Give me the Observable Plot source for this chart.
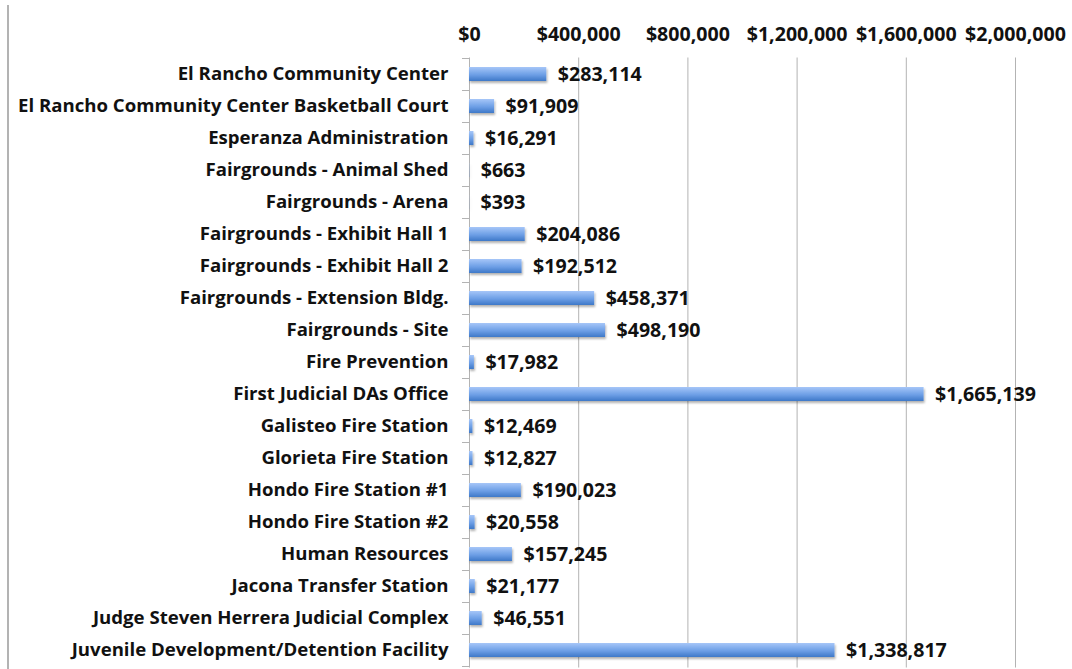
<!DOCTYPE html>
<html>
<head>
<meta charset="utf-8">
<script src="https://cdn.jsdelivr.net/npm/d3@7"></script>
<script src="https://cdn.jsdelivr.net/npm/@observablehq/plot@0.6"></script>
<style>
  html, body { margin: 0; padding: 0; background: #fff; }
  #wrap { position: relative; width: 1072px; height: 669px; overflow: hidden; }
  #edge { position: absolute; left: 7px; top: 5px; width: 2px; bottom: 0; background: #b3b3b3; z-index: 2; }
  #wrap svg { position: absolute; left: 0; top: 0; }
</style>
</head>
<body>
<div id="wrap"><div id="edge"></div></div>
<script>
const facilities = [
  "El Rancho Community Center",
  "El Rancho Community Center Basketball Court",
  "Esperanza Administration",
  "Fairgrounds - Animal Shed",
  "Fairgrounds - Arena",
  "Fairgrounds - Exhibit Hall 1",
  "Fairgrounds - Exhibit Hall 2",
  "Fairgrounds - Extension Bldg.",
  "Fairgrounds - Site",
  "Fire Prevention",
  "First Judicial DAs Office",
  "Galisteo Fire Station",
  "Glorieta Fire Station",
  "Hondo Fire Station #1",
  "Hondo Fire Station #2",
  "Human Resources",
  "Jacona Transfer Station",
  "Judge Steven Herrera Judicial Complex",
  "Juvenile Development/Detention Facility"
];
const amounts = [
  283114, 91909, 16291, 663, 393, 204086, 192512, 458371, 498190, 17982,
  1665139, 12469, 12827, 190023, 20558, 157245, 21177, 46551, 1338817
];
const xTicks = [0, 400000, 800000, 1200000, 1600000, 2000000];

const data = facilities.map((name, i) => ({name, value: amounts[i]}));
const money = v => "$" + d3.format(",")(v);
const nameFont = {fontSize: 18.6, fontWeight: "bold", fill: "#111"};
const numFont = {fontSize: 19.6, fontWeight: "bold", fill: "#111"};
const halfStep = 16;

const chart = Plot.plot({
  width: 1072,
  height: 669,
  marginLeft: 469,
  marginRight: 57,
  marginTop: 57.5,
  marginBottom: 1.5,
  style: {fontFamily: "'Open Sans', Lato, sans-serif", background: "white"},
  x: {domain: [0, 2000000], label: null},
  y: {domain: facilities, paddingInner: 0.56, paddingOuter: 0.28, label: null},
  marks: [
    Plot.gridX(xTicks, {stroke: "#b3b3b3", strokeOpacity: 1}),
    Plot.axisY({tickSize: 7, tickFormat: () => "", dy: -halfStep, stroke: "#b3b3b3", strokeOpacity: 1, label: null}),
    Plot.axisY(facilities.slice(-1), {tickSize: 7, tickFormat: () => "", dy: halfStep, stroke: "#b3b3b3", strokeOpacity: 1, label: null}),
    Plot.barX(data, {x: "value", y: "name", fill: "#5b8fdc"}),
    Plot.text(data, {x: "value", y: "name", text: d => money(d.value), textAnchor: "start", dx: 11, ...numFont}),
    Plot.axisX(xTicks, {anchor: "top", tickSize: 0, tickPadding: 17, tickFormat: money, label: null, ...numFont}),
    Plot.axisY({tickSize: 0, tickPadding: 21, label: null, ...nameFont})
  ]
});

// gradient fill for bars
const svg = d3.select(chart);
const defs = svg.insert("defs", ":first-child");
const grad = defs.append("linearGradient").attr("id", "barGrad").attr("x1", 0).attr("y1", 0).attr("x2", 0).attr("y2", 1);
grad.append("stop").attr("offset", "0%").attr("stop-color", "#a6c6f8");
grad.append("stop").attr("offset", "55%").attr("stop-color", "#6d9fe6");
grad.append("stop").attr("offset", "100%").attr("stop-color", "#3f78c8");
const filt = defs.append("filter").attr("id", "barShadow").attr("x", "-5%").attr("y", "-20%").attr("width", "115%").attr("height", "160%");
filt.append("feDropShadow").attr("dx", 1).attr("dy", 2).attr("stdDeviation", 1).attr("flood-color", "#000").attr("flood-opacity", 0.3);
svg.selectAll('g[aria-label="bar"]').attr("fill", "url(#barGrad)").attr("filter", "url(#barShadow)");

document.getElementById("wrap").appendChild(chart);
</script>
</body>
</html>
